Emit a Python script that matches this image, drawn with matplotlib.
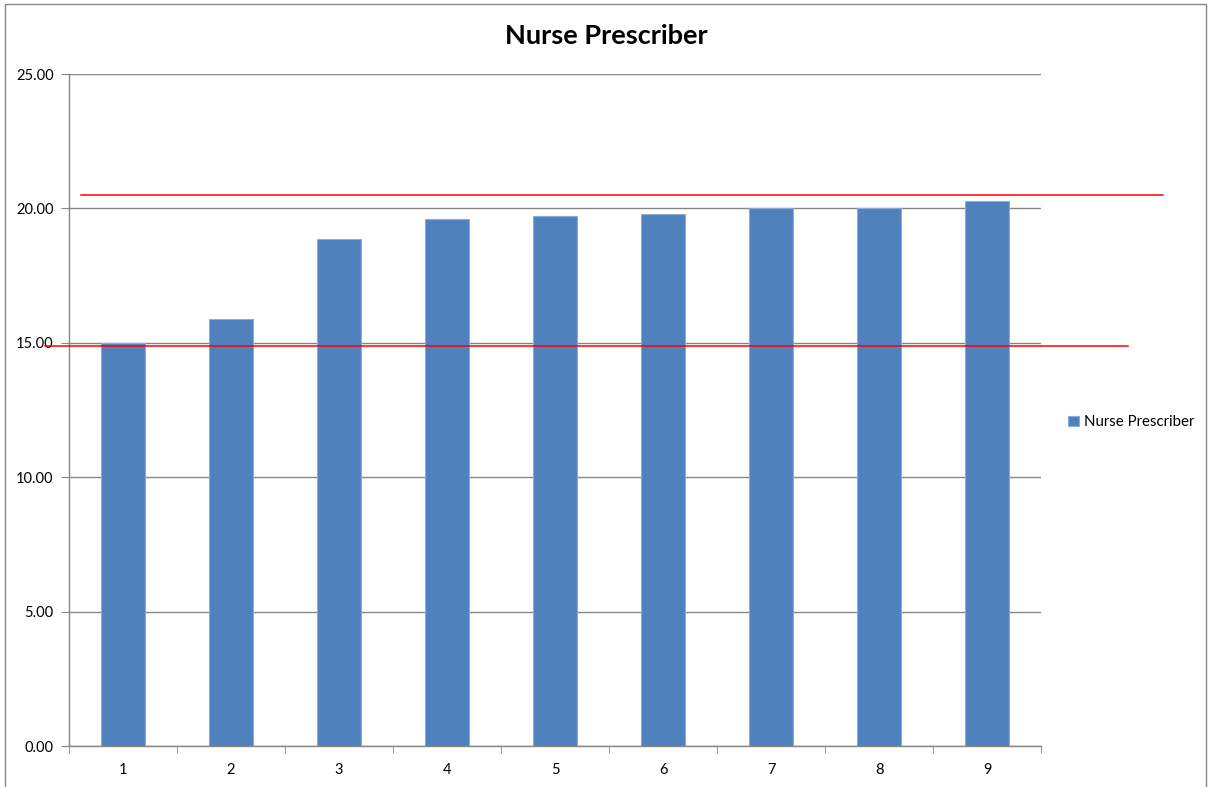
import matplotlib
matplotlib.use("Agg")
import matplotlib.pyplot as plt
import matplotlib.transforms as mtransforms
from matplotlib.patches import Rectangle
import numpy as np

# datos
categorias = ["1", "2", "3", "4", "5", "6", "7", "8", "9"]
valores = [14.98, 15.87, 18.87, 19.60, 19.70, 19.78, 20.00, 20.00, 20.27]
serie = "Nurse Prescriber"
titulo = "Nurse Prescriber"
lineas_rojas = [20.48, 14.89]          # lineas de referencia dibujadas a mano
extension_lineas = [(0.0125, 1.1255), (-0.0247, 1.089)]   # en fraccion del eje x
y_ticks = [0, 5, 10, 15, 20, 25]

plt.rcParams["font.family"] = ["Lato", "DejaVu Sans"]

fig = plt.figure(figsize=(12.08, 7.87), dpi=100)
ax = fig.add_axes([69 / 1208, 41 / 787, 972 / 1208, 672 / 787])

posicion_x = np.arange(len(categorias))
ax.bar(posicion_x, valores, width=0.4, color="#4F81BD", edgecolor="#8AAEDA",
       linewidth=0.8, label=serie, zorder=3)

ax.set_xlim(-0.5, len(categorias) - 0.5)
ax.set_ylim(0, 25)
ax.set_yticks(y_ticks)
ax.set_yticklabels(["%.2f" % v for v in y_ticks], fontsize=10.5)
ax.set_xticks(posicion_x)
ax.set_xticklabels(categorias, fontsize=10.5)
ax.set_xticks(np.arange(len(categorias) + 1) - 0.5, minor=True)
ax.tick_params(axis="x", which="major", length=0, pad=12)
ax.tick_params(axis="x", which="minor", length=5, color="#868686", direction="out")
ax.tick_params(axis="y", length=6, color="#868686", direction="out", pad=5)
ax.yaxis.grid(True, color="#868686", linewidth=1, zorder=0)
for lado in ["top", "right"]:
    ax.spines[lado].set_visible(False)
for lado in ["left", "bottom"]:
    ax.spines[lado].set_color("#868686")
    ax.spines[lado].set_linewidth(1)

# lineas rojas de referencia
trans = mtransforms.blended_transform_factory(ax.transAxes, ax.transData)
for y, (x0, x1) in zip(lineas_rojas, extension_lineas):
    ax.plot([x0, x1], [y, y], color="#FF0000", linewidth=1.1, transform=trans,
            clip_on=False, zorder=4)

fig.text(0.502, 1 - 36 / 787, titulo, ha="center", va="center", fontsize=19.5,
         fontweight="bold")

ax.legend(loc="center left", frameon=False, fontsize=10.8, handlelength=0.7,
          handleheight=0.7, handletextpad=0.4, borderaxespad=0)
leg = ax.get_legend()
leg.set_bbox_to_anchor((1062 / 1208, 1 - 422 / 787), transform=fig.transFigure)

# borde del area del grafico
fig.patches.append(Rectangle((5 / 1208, -0.05), 1201 / 1208, 1.05 - 4 / 787,
                             transform=fig.transFigure, fill=False,
                             edgecolor="#868686", linewidth=1))

fig.savefig("out.png", dpi=100)
